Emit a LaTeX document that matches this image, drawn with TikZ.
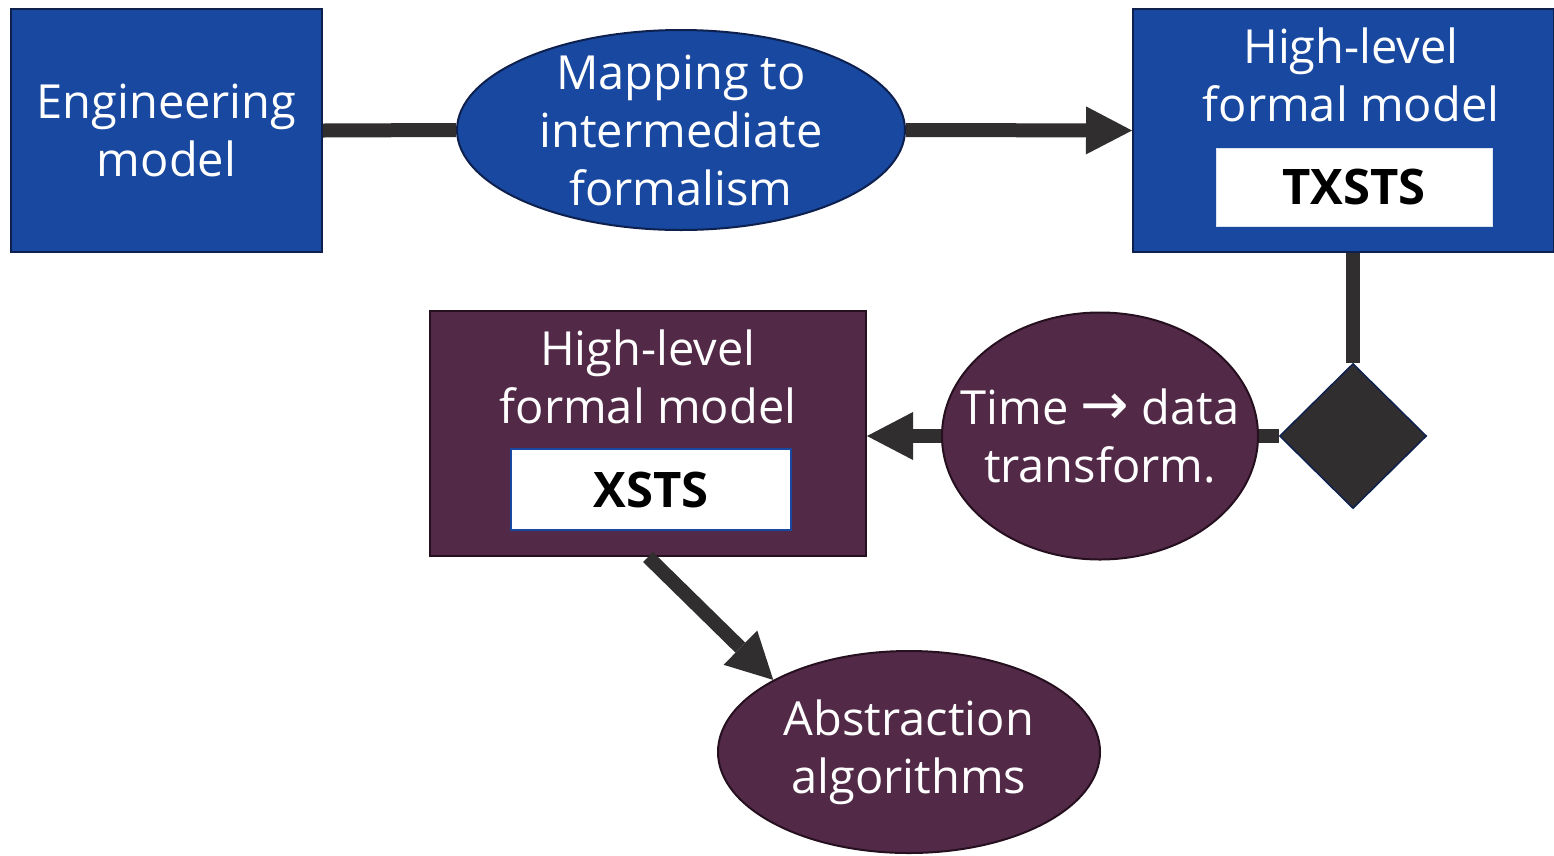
\documentclass[tikz,border=0pt]{standalone}
\usepackage{fontspec}
\setmainfont{Open Sans}
\newfontfamily\arrowfont{DejaVu Sans}
\definecolor{engblue}{RGB}{24, 72, 160}
\definecolor{navy}{RGB}{14, 32, 78}
\definecolor{plum}{RGB}{82, 42, 71}
\definecolor{plumdark}{RGB}{38, 16, 32}
\definecolor{ink}{RGB}{48, 46, 47}
\usetikzlibrary{arrows.meta}
\usetikzlibrary{shapes}
\tikzset{
  every node/.style={font=\fontsize{47}{58}\selectfont, text=white, align=center},
  bluebox/.style={rectangle, fill=engblue, draw=navy, line width=2pt, inner sep=0},
  plumbox/.style={rectangle, fill=plum, draw=plumdark, line width=2pt, inner sep=0},
  blueoval/.style={ellipse, fill=engblue, draw=navy, line width=2pt, inner sep=-30pt},
  plumoval/.style={ellipse, fill=plum, draw=plumdark, line width=2pt, inner sep=-30pt},
  tagbox/.style={rectangle, fill=white, text=black, inner sep=0,
    font=\fontsize{49}{58}\selectfont\bfseries},
  link/.style={draw=ink, line width=14pt},
  arrow/.style={link, -{Triangle[length=46pt, width=48pt, line width=0pt]}}
}

\begin{document}
\begin{tikzpicture}[x=1pt, y=-1pt]
  \useasboundingbox (0,0) rectangle (1554,855);

  % top row
  \node [bluebox, minimum width=311pt, minimum height=243pt] (eng) at (166.5,130.5)
        {Engineering\\model};
  \node [blueoval, minimum width=448pt, minimum height=200pt] (map) at (681,130)
        {Mapping to\\intermediate\\formalism};
  \node [bluebox, minimum width=421pt, minimum height=243pt] (txsts) at (1343.5,130.5) {};
  \node (txtitle) at (1351,75) {High-level\\formal model};
  \node [tagbox, draw=white!85!engblue, line width=1pt,
         minimum width=276pt, minimum height=78pt] (txtag) at (1354,187) {TXSTS};

  % middle row
  \node [diamond, fill=ink, draw=navy, line width=1.5pt, inner sep=0,
         minimum width=147pt, minimum height=145pt] (dia) at (1353,436) {};
  \node [plumoval, minimum width=316pt, minimum height=247pt] (time) at (1100,436)
        {Time {\arrowfont\fontsize{58}{58}\selectfont →} data\\transform.};
  \node [plumbox, minimum width=436pt, minimum height=245pt] (xsts) at (648,433.5) {};
  \node (xtitle) at (648,377) {High-level\\formal model};
  \node [tagbox, draw=engblue, line width=2pt,
         minimum width=280pt, minimum height=81pt] (xtag) at (651,489.5) {XSTS};

  % bottom
  \node [plumoval, minimum width=382pt, minimum height=202pt] (abs) at (909,752)
        {Abstraction\\algorithms};

  % connectors
  \draw [link] (eng.east) -- (map.west);
  \draw [arrow] (map.east) -- (txsts.west);
  \draw [link] (txsts.south -| dia.north) -- (dia.north);
  \draw [link] (dia.west) -- (time.east);
  \draw [arrow] (time.west) -- (time.west -| xsts.east);
  \draw [arrow] (xsts.south) -- (abs.north west);
\end{tikzpicture}
\end{document}
